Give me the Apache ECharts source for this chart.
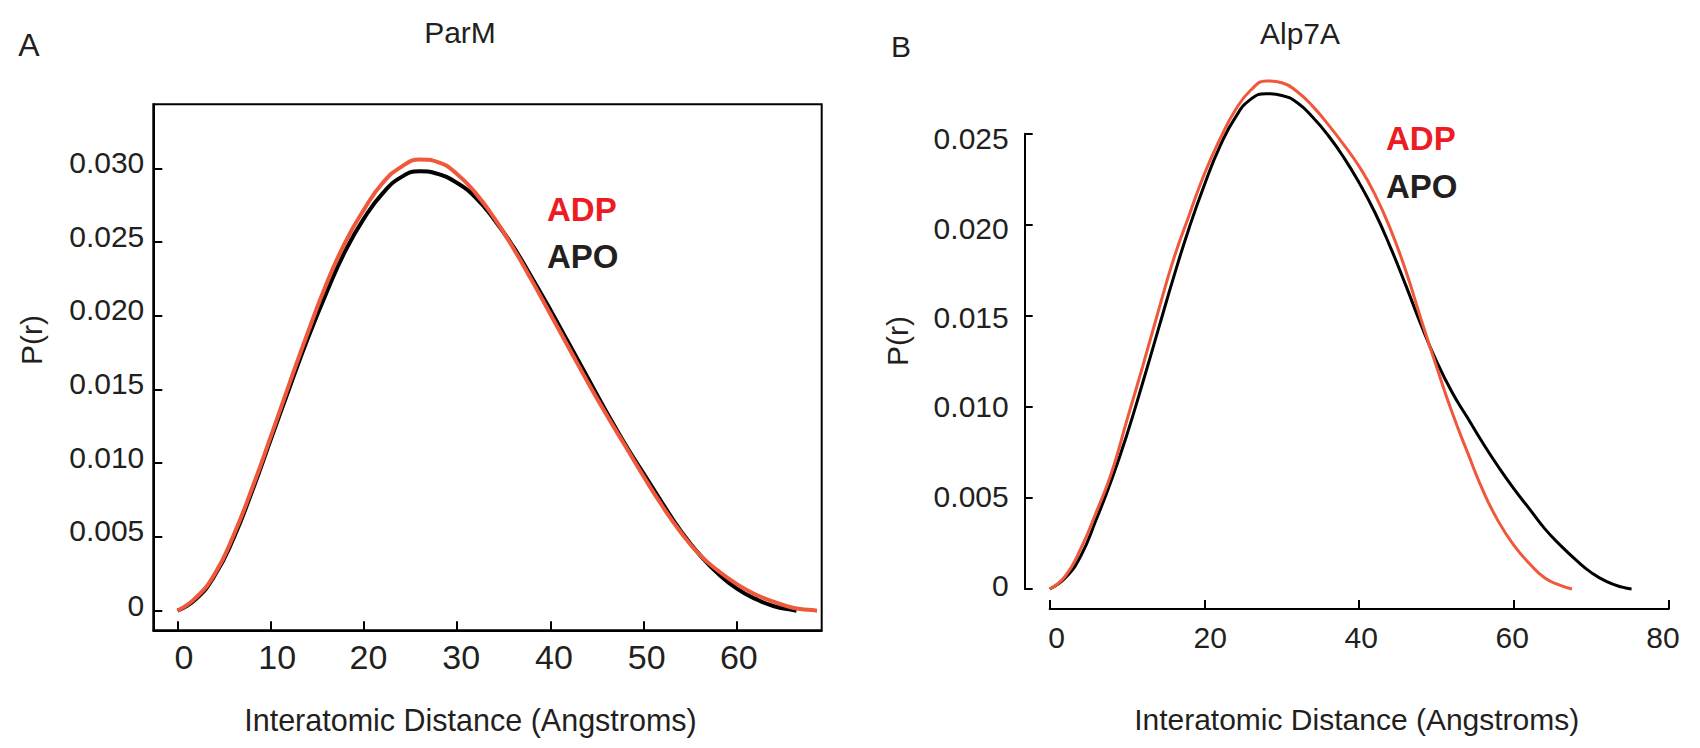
<!DOCTYPE html>
<html>
<head>
<meta charset="utf-8">
<script src="https://cdn.jsdelivr.net/npm/echarts@6/dist/echarts.min.js"></script>
<style>html,body{margin:0;padding:0;background:#fff}#c{width:1700px;height:748px}</style>
</head>
<body>
<div id="c"></div>
<script>
// ---- ParM (panel A) ----
const parmAdpR = [0,2,4,6,8,10,12,14,16,18,20,22,24,26,28,30,32,34,36,38,40,42,44,46,48,50,52,54,56,58,60,62,64,66,68,68.6];
const parmAdpP = [0,0.0009,0.0025,0.0051,0.0083,0.0118,0.0154,0.0189,0.0222,0.0250,0.0272,0.0290,0.0301,0.0306,0.0304,0.0296,0.0283,0.0266,0.0246,0.0224,0.0201,0.0178,0.0155,0.0133,0.0112,0.0091,0.0071,0.0053,0.0038,0.0027,0.0018,0.0011,0.0006,0.0002,0.00004,0];
const parmApoR = [0,2,4,6,8,10,12,14,16,18,20,22,24,26,28,30,32,34,36,38,40,42,44,46,48,50,52,54,56,58,60,62,64,66,66.4];
const parmApoP = [0,0.0008,0.0024,0.0049,0.0081,0.0116,0.0151,0.0185,0.0216,0.0244,0.0266,0.0283,0.0294,0.0298,0.0296,0.0290,0.0280,0.0265,0.0247,0.0226,0.0204,0.0181,0.0158,0.0135,0.0113,0.0093,0.0073,0.0054,0.0038,0.0025,0.0015,0.0008,0.0003,0.00005,0];
const parmXTicks = [0,10,20,30,40,50,60];
const parmYTicks = [0,0.005,0.010,0.015,0.020,0.025,0.030];

// ---- Alp7A (panel B) ----
const alpAdpR = [0,2,4,6,8,10,12,14,16,18,20,22,24,26,28,30,32,34,36,38,40,42,44,46,48,50,52,54,56,58,60,62,64,66,67.5];
const alpAdpP = [0,0.0007,0.0022,0.0042,0.0064,0.0093,0.0122,0.0152,0.0181,0.0205,0.0228,0.0247,0.0263,0.0274,0.0279,0.0278,0.0273,0.0265,0.0255,0.0244,0.0232,0.0217,0.0198,0.0175,0.0148,0.0122,0.0097,0.0075,0.0054,0.0037,0.0024,0.0014,0.0006,0.0002,0];
const alpApoR = [0,2,4,6,8,10,12,14,16,18,20,22,24,26,28,30,32,34,36,38,40,42,44,46,48,50,52,54,56,58,60,62,64,66,68,70,72,74,75.2];
const alpApoP = [0,0.0006,0.0018,0.0038,0.0060,0.0085,0.0113,0.0142,0.0171,0.0198,0.0222,0.0243,0.0259,0.0269,0.0272,0.0271,0.0267,0.0259,0.0249,0.0237,0.0223,0.0207,0.0188,0.0167,0.0145,0.0125,0.0108,0.0094,0.0080,0.0067,0.0055,0.0044,0.0033,0.0024,0.0016,0.0009,0.0004,0.0001,0];
const alpXTicks = [0,20,40,60,80];
const alpYTicks = [0,0.005,0.010,0.015,0.020,0.025];

const pairs = (xs, ys) => xs.map((x, i) => [x, ys[i]]);
const yFmt = v => (v === 0 ? '0' : v.toFixed(3));
const FONT = 'Liberation Sans, Arial, sans-serif';
const TXT = '#231F20';
const ADP_LINE = '#F0583C';

// per-label nudges (px) so the tick labels sit where the reference prints them
const idxOf = (ticks, v) => ticks.findIndex(t => Math.abs(t - v) < 1e-9);
const mkRich = (n, dxs, dys, style) => {
  const r = {};
  for (let i = 0; i < n; i++) {
    const dx = dxs[i] || 0, dy = dys[i] || 0;
    r['t' + i] = Object.assign({}, style, {
      padding: [Math.max(0, 2 * dy), Math.max(0, -2 * dx), Math.max(0, -2 * dy), Math.max(0, 2 * dx)]
    });
  }
  return r;
};
const lblStyleA = {fontSize: 34, color: TXT, fontFamily: FONT};
const lblStyleB = {fontSize: 30, color: TXT, fontFamily: FONT};

const chart = echarts.init(document.getElementById('c'), null, {renderer: 'svg'});
chart.setOption({
  animation: false,
  textStyle: {fontFamily: FONT},
  grid: [
    {left: 153.3, top: 104.3, width: 668.4, height: 526, show: true, borderColor: '#000', borderWidth: 2},
    {left: 1049.7, top: 133.7, width: 619, height: 455.3}
  ],
  xAxis: [
    {
      gridIndex: 0, type: 'value', min: -2.6, max: 69.1,
      axisLine: {show: true, onZero: false, lineStyle: {color: '#000', width: 2}},
      axisTick: {show: true, inside: true, length: 9, customValues: parmXTicks, lineStyle: {color: '#000', width: 2}},
      axisLabel: {
        customValues: parmXTicks, fontSize: 34, color: TXT, margin: 10, fontFamily: FONT,
        formatter: v => '{t' + idxOf(parmXTicks, v) + '|' + v + '}',
        rich: mkRich(7, [6.4, 6.5, 4.4, 4, 3.5, 3, 2], [], lblStyleA)
      },
      splitLine: {show: false},
      name: 'Interatomic Distance (Angstroms)', nameLocation: 'middle', nameGap: 74,
      nameTextStyle: {fontSize: 30.5, color: TXT, padding: [0, 34, 0, 0], fontFamily: FONT}
    },
    {
      gridIndex: 1, type: 'value', min: 0, max: 80, interval: 20, offset: 20,
      axisLine: {show: true, onZero: false, lineStyle: {color: '#000', width: 2}},
      axisTick: {show: true, inside: true, length: 9, lineStyle: {color: '#000', width: 2}},
      axisLabel: {
        fontSize: 30, color: TXT, margin: 13, fontFamily: FONT,
        formatter: v => '{t' + idxOf(alpXTicks, v) + '|' + v + '}',
        rich: mkRich(5, [7, 5.7, 2, -1.7, -5.7], [], lblStyleB)
      },
      splitLine: {show: false},
      name: 'Interatomic Distance (Angstroms)', nameLocation: 'middle', nameGap: 95,
      nameTextStyle: {fontSize: 30, color: TXT, padding: [0, 5, 0, 0], fontFamily: FONT}
    }
  ],
  yAxis: [
    {
      gridIndex: 0, type: 'value', min: -0.00133, max: 0.03434,
      axisLine: {show: true, onZero: false, lineStyle: {color: '#000', width: 2}},
      axisTick: {show: true, inside: true, length: 9, customValues: parmYTicks, lineStyle: {color: '#000', width: 2}},
      axisLabel: {
        customValues: parmYTicks, fontSize: 30, color: TXT, margin: 9, fontFamily: FONT,
        formatter: v => '{t' + idxOf(parmYTicks, v) + '|' + yFmt(v) + '}',
        rich: mkRich(7, [], [-5, -6, -6, -6, -6, -6, -6], lblStyleB)
      },
      splitLine: {show: false}
    },
    {
      gridIndex: 1, type: 'value', min: 0, max: 0.025, interval: 0.005, offset: 25,
      axisLine: {show: true, onZero: false, lineStyle: {color: '#000', width: 2}},
      axisTick: {show: true, inside: true, length: 8, lineStyle: {color: '#000', width: 2}},
      axisLabel: {
        fontSize: 30, color: TXT, margin: 16, fontFamily: FONT,
        formatter: v => { const i = idxOf(alpYTicks, v); return '{t' + i + '|' + yFmt(alpYTicks[i]) + '}'; },
        rich: mkRich(6, [], [-3.5, -1.7, 0, 1.6, 3.3, 5], lblStyleB)
      },
      splitLine: {show: false}
    }
  ],
  series: [
    {name: 'APO', type: 'line', xAxisIndex: 0, yAxisIndex: 0, data: pairs(parmApoR, parmApoP), smooth: true, showSymbol: false, lineStyle: {color: '#000', width: 4}, clip: false},
    {name: 'ADP', type: 'line', xAxisIndex: 0, yAxisIndex: 0, data: pairs(parmAdpR, parmAdpP), smooth: true, showSymbol: false, lineStyle: {color: ADP_LINE, width: 4}, clip: false},
    {name: 'APO', type: 'line', xAxisIndex: 1, yAxisIndex: 1, data: pairs(alpApoR, alpApoP), smooth: true, showSymbol: false, lineStyle: {color: '#000', width: 3}, clip: false},
    {name: 'ADP', type: 'line', xAxisIndex: 1, yAxisIndex: 1, data: pairs(alpAdpR, alpAdpP), smooth: true, showSymbol: false, lineStyle: {color: ADP_LINE, width: 3}, clip: false}
  ],
  graphic: [
    {type: 'text', x: 29, y: 45, style: {text: 'A', fontSize: 32, fill: TXT, align: 'center', verticalAlign: 'middle', fontFamily: FONT}},
    {type: 'text', x: 460, y: 32, style: {text: 'ParM', fontSize: 30, fill: TXT, align: 'center', verticalAlign: 'middle', fontFamily: FONT}},
    {type: 'text', x: 901, y: 46, style: {text: 'B', fontSize: 30, fill: TXT, align: 'center', verticalAlign: 'middle', fontFamily: FONT}},
    {type: 'text', x: 1300, y: 33, style: {text: 'Alp7A', fontSize: 30, fill: TXT, align: 'center', verticalAlign: 'middle', fontFamily: FONT}},
    {type: 'text', x: 31, y: 340, rotation: Math.PI / 2, style: {text: 'P(r)', fontSize: 30, fill: TXT, align: 'center', verticalAlign: 'middle', fontFamily: FONT}},
    {type: 'text', x: 897, y: 341, rotation: Math.PI / 2, style: {text: 'P(r)', fontSize: 30, fill: TXT, align: 'center', verticalAlign: 'middle', fontFamily: FONT}},
    {type: 'text', x: 547, y: 209, style: {text: 'ADP', fontSize: 33, fontWeight: 'bold', fill: '#ED1C24', align: 'left', verticalAlign: 'middle', fontFamily: FONT}},
    {type: 'text', x: 547, y: 256, style: {text: 'APO', fontSize: 33, fontWeight: 'bold', fill: TXT, align: 'left', verticalAlign: 'middle', fontFamily: FONT}},
    {type: 'text', x: 1386, y: 138, style: {text: 'ADP', fontSize: 33, fontWeight: 'bold', fill: '#ED1C24', align: 'left', verticalAlign: 'middle', fontFamily: FONT}},
    {type: 'text', x: 1386, y: 186, style: {text: 'APO', fontSize: 33, fontWeight: 'bold', fill: TXT, align: 'left', verticalAlign: 'middle', fontFamily: FONT}}
  ]
});
</script>
</body>
</html>
